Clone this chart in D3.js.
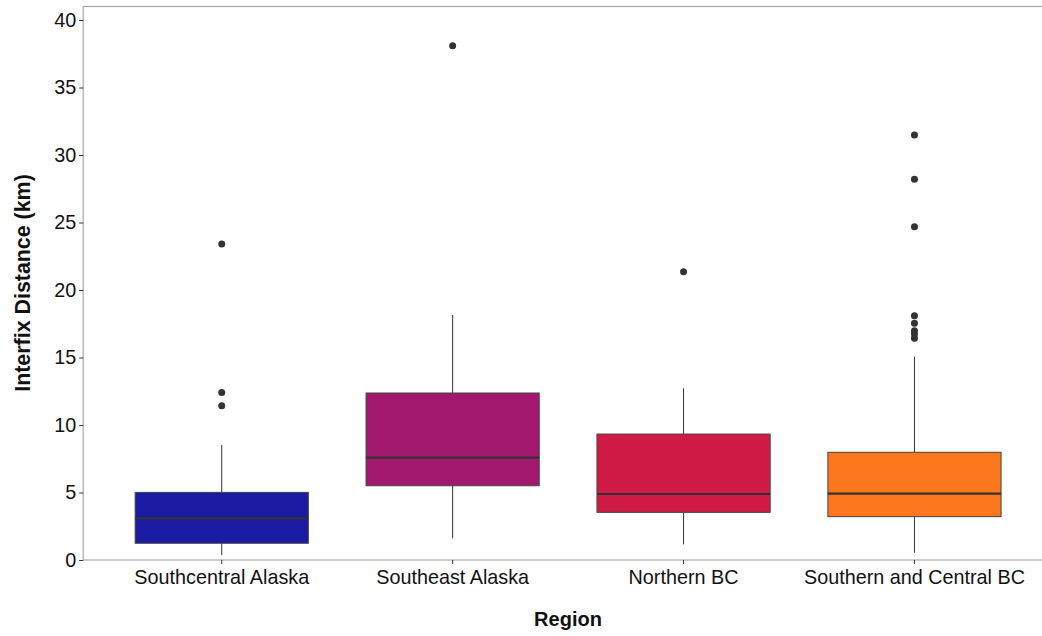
<!DOCTYPE html>
<html>
<head>
<meta charset="utf-8">
<script src="https://cdn.jsdelivr.net/npm/d3@7"></script>
<style>
  html, body { margin: 0; padding: 0; background: #fff; }
  svg { display: block; }
  text { font-family: "Liberation Sans", Arial, sans-serif; }
</style>
</head>
<body>
<svg id="chart" width="1042" height="636"></svg>
<script>
// Interfix distance by region: box summaries and outliers (km)
const regions     = ["Southcentral Alaska", "Southeast Alaska", "Northern BC", "Southern and Central BC"];
const whiskerLow  = [0.37, 1.60, 1.16, 0.54];
const q1          = [1.24, 5.50, 3.53, 3.21];
const median      = [3.09, 7.58, 4.89, 4.91];
const q3          = [5.01, 12.37, 9.33, 7.98];
const whiskerHigh = [8.52, 18.15, 12.72, 15.06];
const outliers    = [
  [23.4, 12.4, 11.43],
  [38.1],
  [21.36],
  [31.48, 28.2, 24.69, 18.1, 17.53, 16.99, 16.74, 16.42]
];
const fills       = ["#1b1aa3", "#a3196f", "#d11b47", "#fd771c"];
const yTicks      = [0, 5, 10, 15, 20, 25, 30, 35, 40];

const svg = d3.select("#chart");
const pLeft = 83.2, pRight = 1053, pTop = 6.5, pBottom = 560;

const x = d3.scaleBand().domain(regions).range([pLeft, pRight]).paddingInner(0).paddingOuter(0.1);
const y = d3.scaleLinear().domain([0, 41]).range([pBottom, pTop]);

const boxes = regions.map((r, i) => ({
  region: r, lo: whiskerLow[i], q1: q1[i], med: median[i], q3: q3[i], hi: whiskerHigh[i],
  out: outliers[i], fill: fills[i]
}));

// panel frame
svg.append("rect")
  .attr("x", pLeft).attr("y", pTop)
  .attr("width", pRight - pLeft).attr("height", pBottom - pTop)
  .attr("fill", "none").attr("stroke", "#a8a8a8").attr("stroke-width", 1.2);

// axes
const yAxis = svg.append("g").attr("transform", `translate(${pLeft},0)`)
  .call(d3.axisLeft(y).tickValues(yTicks).tickSize(4).tickPadding(3));
const xAxis = svg.append("g").attr("transform", `translate(0,${pBottom})`)
  .call(d3.axisBottom(x).tickSize(4).tickPadding(6));
[yAxis, xAxis].forEach(g => {
  g.select(".domain").remove();
  g.selectAll(".tick line").attr("stroke", "#333").attr("stroke-width", 1);
  g.selectAll(".tick text").attr("fill", "#111").style("font-size", "19.8px")
    .style("font-family", "'Liberation Sans', Arial, sans-serif");
});

const bw = x.bandwidth() * 0.75;
const cx = d => x(d.region) + x.bandwidth() / 2;

const g = svg.append("g");
const box = g.selectAll("g.box").data(boxes).join("g").attr("class", "box");

// whiskers
box.append("line")
  .attr("x1", cx).attr("x2", cx)
  .attr("y1", d => y(d.q3)).attr("y2", d => y(d.hi))
  .attr("stroke", "#333").attr("stroke-width", 1);
box.append("line")
  .attr("x1", cx).attr("x2", cx)
  .attr("y1", d => y(d.q1)).attr("y2", d => y(d.lo))
  .attr("stroke", "#333").attr("stroke-width", 1);

// interquartile box
box.append("rect")
  .attr("x", d => cx(d) - bw / 2).attr("width", bw)
  .attr("y", d => y(d.q3)).attr("height", d => y(d.q1) - y(d.q3))
  .attr("fill", d => d.fill).attr("stroke", "#444").attr("stroke-width", 1);

// median
box.append("line")
  .attr("x1", d => cx(d) - bw / 2).attr("x2", d => cx(d) + bw / 2)
  .attr("y1", d => y(d.med)).attr("y2", d => y(d.med))
  .attr("stroke", "#333").attr("stroke-width", 2.2);

// outliers
box.selectAll("circle").data(d => d.out.map(v => ({ v, d }))).join("circle")
  .attr("cx", o => cx(o.d)).attr("cy", o => y(o.v)).attr("r", 3.5)
  .attr("fill", "#333");

// axis titles
svg.append("text")
  .attr("x", 568).attr("y", 626)
  .attr("text-anchor", "middle")
  .style("font-size", "20px").style("font-weight", "bold").attr("fill", "#111")
  .text("Region");
svg.append("text")
  .attr("transform", `translate(30,283) rotate(-90)`)
  .attr("text-anchor", "middle")
  .style("font-size", "21.4px").style("font-weight", "bold").attr("fill", "#111")
  .text("Interfix Distance (km)");
</script>
</body>
</html>
